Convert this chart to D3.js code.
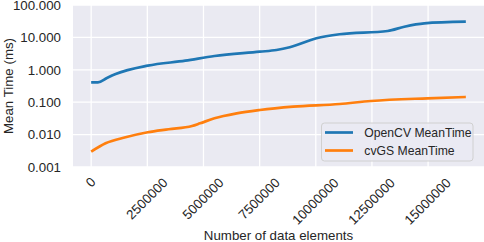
<!DOCTYPE html>
<html lang="en">
<head>
    <meta charset="UTF-8">
    <title>Mean Time</title>
    <script src="https://d3js.org/d3.v7.min.js"></script>
    <style>
        body { margin: 0; background: #fff; }
        text { font-family: "Liberation Sans", Arial, sans-serif; fill: #262626; }
    </style>
</head>
<body>
<div id="chart-container"></div>
<script>
    // values
    const opencvX = [0, 300000, 700000, 1090000, 2520000, 4190000, 5490000, 7510000, 8250000, 8840000, 10030000, 11060000, 13200000, 13940000, 14830000, 16680000];
    const opencvTime = [0.41, 0.41, 0.56, 0.74, 1.34, 1.91, 2.67, 3.62, 4.08, 4.95, 9.38, 12.5, 15.8, 21.4, 27.2, 30.5];

    const cvgsX = [0, 640000, 1530000, 2520000, 3450000, 4490000, 4850000, 5490000, 5890000, 6480000, 7510000, 8990000, 11060000, 12460000, 14970000, 16680000];
    const cvgsTime = [0.00297, 0.00538, 0.00826, 0.0118, 0.0146, 0.0184, 0.0223, 0.0318, 0.0375, 0.0454, 0.0574, 0.0726, 0.088, 0.109, 0.132, 0.145];

    const xTicks = [0, 2500000, 5000000, 7500000, 10000000, 12500000, 15000000];
    const yTicks = [0.001, 0.01, 0.1, 1, 10, 100];
    const seriesNames = ["OpenCV MeanTime", "cvGS MeanTime"];
    const colors = ["#1f77b4", "#ff7f0e"];

    const width = 484, height = 242;
    const margin = { top: 5, right: 0, bottom: 75, left: 73 };
    const innerW = width - margin.left - margin.right;
    const innerH = height - margin.top - margin.bottom;

    const svg = d3.select("#chart-container")
        .append("svg")
        .attr("width", width)
        .attr("height", height);

    const g = svg.append("g")
        .attr("transform", `translate(${margin.left},${margin.top})`);

    // matplotlib style 5% margins on x
    const xMax = d3.max(opencvX);
    const xScale = d3.scaleLinear()
        .domain([-0.0485 * xMax, 1.0485 * xMax])
        .range([0, innerW]);

    const yScale = d3.scaleLog()
        .domain([0.001, 100])
        .range([innerH, 0]);

    // background
    g.append("rect")
        .attr("width", innerW)
        .attr("height", innerH)
        .attr("fill", "#eaeaf2");

    // grid
    g.selectAll(".vgrid")
        .data(xTicks)
        .enter()
        .append("line")
        .attr("x1", d => xScale(d))
        .attr("x2", d => xScale(d))
        .attr("y1", 0)
        .attr("y2", innerH)
        .attr("stroke", "#fff")
        .attr("stroke-width", 1.3);

    g.selectAll(".hgrid")
        .data(yTicks)
        .enter()
        .append("line")
        .attr("x1", 0)
        .attr("x2", innerW)
        .attr("y1", d => yScale(d))
        .attr("y2", d => yScale(d))
        .attr("stroke", "#fff")
        .attr("stroke-width", 1.3);

    // y tick labels
    g.selectAll(".ylab")
        .data(yTicks)
        .enter()
        .append("text")
        .attr("x", -12)
        .attr("y", d => yScale(d))
        .attr("dy", "0.36em")
        .attr("text-anchor", "end")
        .style("font-size", "13.3px")
        .text(d => d.toFixed(3));

    // x tick labels, rotated like matplotlib rotation=45
    g.selectAll(".xlab")
        .data(xTicks)
        .enter()
        .append("text")
        .attr("text-anchor", "middle")
        .attr("dominant-baseline", "central")
        .style("font-size", "13.3px")
        .text(d => d3.format("d")(d))
        .attr("transform", function(d) {
            const w = this.getComputedTextLength();
            const cy = 179.5 + 0.37 * w - margin.top;
            return `translate(${xScale(d) - 0.4},${cy}) rotate(-45)`;
        });

    // lines
    const line = d3.line()
        .x(d => xScale(d[0]))
        .y(d => yScale(d[1]))
        .curve(d3.curveMonotoneX);

    const series = [d3.zip(opencvX, opencvTime), d3.zip(cvgsX, cvgsTime)];

    g.selectAll(".series")
        .data(series)
        .enter()
        .append("path")
        .attr("d", line)
        .attr("fill", "none")
        .attr("stroke", (d, i) => colors[i])
        .attr("stroke-width", 2.7)
        .attr("stroke-linecap", "butt");

    // axis titles
    svg.append("text")
        .attr("x", margin.left + innerW / 2)
        .attr("y", 239.5)
        .attr("text-anchor", "middle")
        .style("font-size", "13.3px")
        .text("Number of data elements");

    svg.append("text")
        .attr("transform", `translate(12.5,${margin.top + innerH / 2}) rotate(-90)`)
        .attr("text-anchor", "middle")
        .style("font-size", "13.3px")
        .text("Mean Time (ms)");

    // legend
    const legend = svg.append("g");
    legend.append("rect")
        .attr("x", 321.5)
        .attr("y", 123)
        .attr("width", 151.5)
        .attr("height", 38)
        .attr("rx", 3)
        .attr("fill", "#eaeaf2")
        .attr("fill-opacity", 0.8)
        .attr("stroke", "#d0d0d0")
        .attr("stroke-width", 1);

    const items = legend.selectAll(".item")
        .data(seriesNames)
        .enter()
        .append("g")
        .attr("transform", (d, i) => `translate(0,${132.5 + i * 18})`);

    items.append("line")
        .attr("x1", 325)
        .attr("x2", 353)
        .attr("stroke", (d, i) => colors[i])
        .attr("stroke-width", 2.7);

    items.append("text")
        .attr("x", 364.3)
        .attr("dy", "0.36em")
        .style("font-size", "12.2px")
        .text(d => d);
</script>
</body>
</html>
